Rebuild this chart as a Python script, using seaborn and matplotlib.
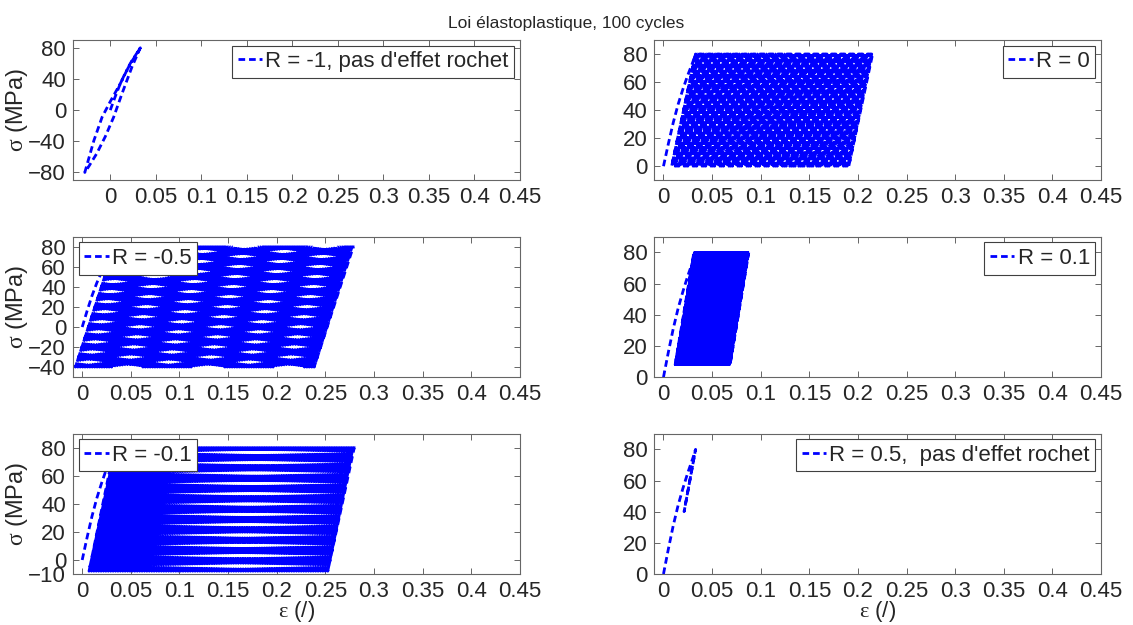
import numpy as np
import pandas as pd
import seaborn as sns
import matplotlib.pyplot as plt

# --- values ---
titles = ["R = -1, pas d'effet rochet", "R = 0", "R = -0.5", "R = 0.1",
          "R = -0.1", "R = 0.5,  pas d'effet rochet"]
sig_max = [80, 80, 80, 80, 80, 80]
sig_min = [-80, 0, -40, 8, -8, 40]
n_cycles = 100
# strain at first peak and ratchet strain gained per cycle
peak_first = [0.033, 0.032, 0.032, 0.031, 0.033, 0.033]
ratchet_step = [0.0, 0.00184, 0.00248, 0.00057, 0.00248, 0.0]
# strain width of the elastic unloading line between sig_max and sig_min
unload_width = [0.0, 0.0236, 0.039, 0.019, 0.026, 0.0118]

# first loading curve (same material in every panel)
eps_mono = [0.0, 0.005, 0.010, 0.015, 0.020, 0.025, 0.030, 0.033]
sig_mono = [0, 16, 31, 44, 55, 65, 74, 80]

# R = -1: stabilised loop, unloading branch then reloading branch
eps_unload_r1 = [0.033, 0.022, 0.011, 0.0, -0.009, -0.018, -0.028]
sig_unload_r1 = [80, 60, 34, 11, -9, -39, -80]
eps_reload_r1 = [-0.028, -0.024, -0.015, -0.0055, 0.0037, 0.013, 0.024, 0.033]
sig_reload_r1 = [-80, -73, -56, -34, -9, 21.5, 56, 80]

xticks = [0, 0.05, 0.1, 0.15, 0.2, 0.25, 0.3, 0.35, 0.4, 0.45]
xtick_labels = ['0', '0.05', '0.1', '0.15', '0.2', '0.25', '0.3', '0.35', '0.4', '0.45']
ylims = [(-90, 90), (-10, 90), (-50, 90), (0, 90), (-10, 90), (0, 90)]
yticks = [[-80, -40, 0, 40, 80], [0, 20, 40, 60, 80], [-40, -20, 0, 20, 40, 60, 80],
          [0, 20, 40, 60, 80], [-10, 0, 20, 40, 60, 80], [0, 20, 40, 60, 80]]
legend_loc = ['upper right', 'upper right', 'upper left', 'upper right',
              'upper left', 'upper right']

sns.set_style('ticks')
plt.rcParams['font.family'] = ['Liberation Sans', 'DejaVu Sans']
# greek letters upright in a serif face, like the original
plt.rcParams['mathtext.fontset'] = 'custom'
plt.rcParams['mathtext.rm'] = 'Liberation Serif'
plt.rcParams['mathtext.it'] = 'Liberation Serif'
plt.rcParams['lines.dashed_pattern'] = [2.4, 1.4]


def build_path(i):
    eps = list(eps_mono)
    sig = list(sig_mono)
    if i == 0:
        eps += eps_unload_r1[1:] + eps_reload_r1[1:]
        sig += sig_unload_r1[1:] + sig_reload_r1[1:]
        return eps, sig
    p = peak_first[i]
    for k in range(n_cycles):
        # elastic unloading, reloading, then ratchet at the peak stress
        eps.append(p - unload_width[i])
        sig.append(sig_min[i])
        eps.append(p + ratchet_step[i] / 2)
        sig.append(sig_max[i])
        p = p + ratchet_step[i]
        eps.append(p)
        sig.append(sig_max[i])
    return eps, sig


fig, axes = plt.subplots(3, 2, figsize=(11.33, 6.25), dpi=100)
fig.subplots_adjust(left=0.0644, right=0.9718, top=0.936, bottom=0.0816,
                    wspace=0.301, hspace=0.404)

for i, ax in enumerate(axes.flat):
    eps, sig = build_path(i)
    df = pd.DataFrame({'eps': eps, 'sig': sig})
    sns.lineplot(data=df, x='eps', y='sig', sort=False, estimator=None, ax=ax,
                 color='blue', lw=2.0, linestyle='--', label=titles[i])
    ax.set_xlim(-0.041 if i == 0 else -0.0095, 0.45)
    ax.set_ylim(*ylims[i])
    ax.set_xticks(xticks)
    ax.set_xticklabels(xtick_labels)
    ax.set_yticks(yticks[i])
    ax.tick_params(direction='in', length=4, width=0.6, color='0.3',
                   top=True, right=True, labelsize=16, pad=5)
    for s in ax.spines.values():
        s.set_color('0.4')
        s.set_linewidth(0.8)
    if i >= 4:
        ax.set_xlabel(r'$\varepsilon$ (/)', fontsize=16)
        ax.xaxis.set_label_coords(0.5, -0.175)
    else:
        ax.set_xlabel('')
    if i % 2 == 0:
        ax.set_ylabel(r'$\sigma$ (MPa)', fontsize=17)
        ax.yaxis.set_label_coords(-0.097, 0.5)
    else:
        ax.set_ylabel('')
    leg = ax.legend(loc=legend_loc[i], fontsize=16, frameon=True, fancybox=False,
                    framealpha=1, edgecolor='0.25', borderpad=0.25,
                    borderaxespad=0.25, handlelength=1.1, handletextpad=0.15)
    leg.get_frame().set_linewidth(0.8)

fig.suptitle('Loi élastoplastique, 100 cycles', fontsize=12.5, y=0.975)
fig.savefig('out.png', dpi=100, facecolor='white')
